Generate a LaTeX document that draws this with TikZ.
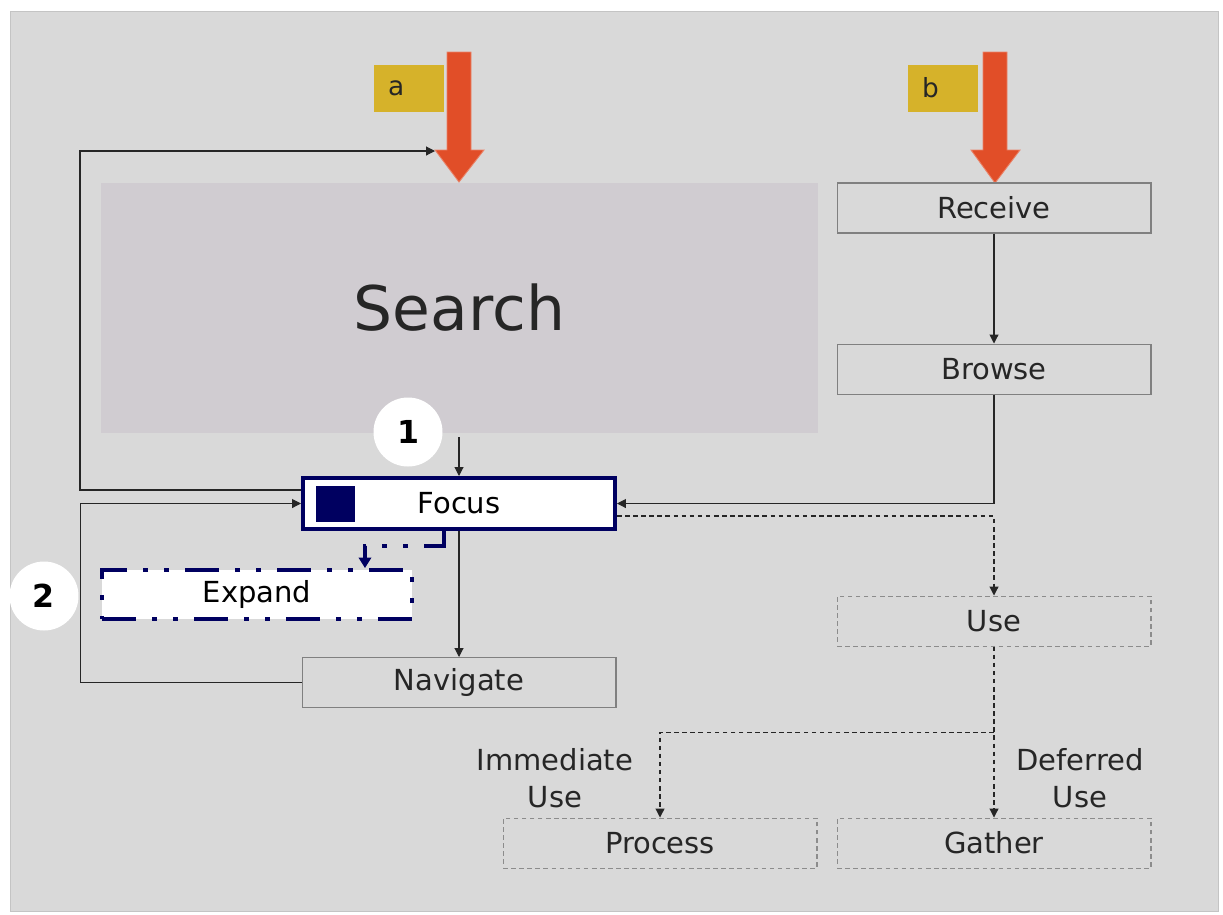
\documentclass[tikz,border=0pt]{standalone}
\usepackage{fontspec}
\setmainfont{DejaVu Sans}
\usepackage{tikz}
\usetikzlibrary{arrows.meta, positioning, calc}
\definecolor{bggrey}{RGB}{217,217,217}
\definecolor{bgedge}{RGB}{196,196,196}
\definecolor{srchfill}{RGB}{208,204,209}
\definecolor{mynavy}{RGB}{0,0,96}
\definecolor{myred}{RGB}{225,78,40}
\definecolor{myyellow}{RGB}{214,178,42}
\definecolor{boxgrey}{RGB}{128,128,128}
\definecolor{dashgrey}{RGB}{140,140,140}
\definecolor{mydark}{RGB}{38,38,38}
\tikzset{
  box/.style={rectangle, draw=boxgrey, line width=0.6pt,
    minimum width=6.28cm, minimum height=1.0cm, inner sep=0pt,
    font=\fontsize{16.5}{20}\selectfont, text=mydark},
  dbox/.style={box, draw=dashgrey, dash pattern=on 2.6pt off 2pt},
  navybox/.style={rectangle, draw=mynavy, fill=white, line width=2.3pt,
    minimum width=6.24cm, minimum height=1.02cm, inner sep=0pt,
    font=\fontsize{16.5}{20}\selectfont, text=black},
  labbox/.style={rectangle, fill=myyellow, minimum width=1.4cm,
    minimum height=0.94cm, inner xsep=0.28cm, text width=0.84cm,
    align=left, font=\fontsize{15}{18}\selectfont, text=mydark},
  numcirc/.style={circle, fill=white, minimum size=1.38cm, inner sep=0pt,
    font=\fontsize{18}{20}\selectfont\bfseries},
  lbl/.style={align=center, font=\fontsize{16.5}{21}\selectfont, text=mydark},
  bigarrow/.style={fill=myred, draw=myred!70!white, line width=0.5pt},
  arrow/.style={-{Triangle[length=5pt,width=5pt]}, color=mydark, line width=0.6pt},
  darrow/.style={arrow, dash pattern=on 2.6pt off 2pt},
  navyarrow/.style={-{Triangle[length=6pt,width=7pt]}, color=mynavy, line width=2.3pt,
    dash pattern=on 7mm off 3.2mm on 1mm off 3.2mm on 1mm off 3.2mm}
}
\begin{document}
\begin{tikzpicture}[x=0.02cm, y=-0.02cm]
  \useasboundingbox (0,0) rectangle (1223,914);
  \fill[bggrey, draw=bgedge] (10,11) rectangle (1218,911);

  % Search block
  \node[rectangle, fill=srchfill, minimum width=14.34cm, minimum height=5.0cm,
    font=\fontsize{35}{40}\selectfont, text=mydark] (search) at (459.5,308) {Search};

  % Entry arrows a and b
  \fill[bigarrow] (447,52) -- (471,52) -- (471,150) -- (484,150) -- (459,182)
    -- (435,150) -- (447,150) -- cycle;
  \fill[bigarrow] (983,52) -- (1007,52) -- (1007,150) -- (1020,150) -- (995,183)
    -- (971,150) -- (983,150) -- cycle;
  \coordinate (ahead) at (435,151);
  \node[labbox] (alab) at (409,88) {a};
  \node[labbox] (blab) at (943,88) {b};

  % Right column
  \node[box] (recv) at (994,208) {Receive};
  \node[box, below=2.2cm of recv] (brow) {Browse};
  \node[dbox, below=4.02cm of brow] (use) {Use};
  \node[dbox, below=3.42cm of use] (gath) {Gather};
  \node[dbox, left=0.38cm of gath] (proc) {Process};

  % Left column
  \node[navybox] (focus) at (459,503.5) {Focus};
  \node[fill=mynavy, minimum width=0.78cm, minimum height=0.72cm, inner sep=0pt,
    anchor=west] (fmark) at ($(focus.west)+(15,0)$) {};
  \node[navybox, minimum width=6.2cm, minimum height=0.98cm, line width=2.2pt,
    dash pattern=on 6.8mm off 3.2mm on 1mm off 3.2mm on 1mm off 3.2mm] (expand) at (257,594.5) {Expand};
  \node[box, below=2.52cm of focus] (navig) {Navigate};

  % Step numbers
  \node[numcirc] (n1) at (408,432) {1};
  \node[numcirc] (n2) at (44,596) {2};

  % Branch labels
  \node[lbl] (imm) at (555,778) {Immediate\\Use};
  \node[lbl] (def) at (1080,778) {Deferred\\Use};

  % Solid connectors
  \draw[arrow] (recv) -- (brow);
  \draw[arrow] (brow.south) |- (focus.east);
  \draw[arrow, shorten <=0.08cm] (search.south -| focus.north) -- (focus.north);
  \draw[arrow] (focus.south) -- (focus.south |- navig.north);
  \draw[arrow] ([yshift=0.27cm]focus.west) -- ++(-221,0) |- (ahead);
  \draw[arrow] (navig.west) -- ++(-221,0) |- (focus.west);

  % Expand link
  \draw[navyarrow] ([xshift=-0.3cm]focus.south) -- ++(0,15)
    -| ([xshift=2.16cm]expand.north);

  % Dashed use links
  \draw[darrow] ([yshift=-0.25cm]focus.east) -| (use.north);
  \coordinate (split) at ($(use.south)!0.5!(gath.north)$);
  \draw[darrow] (use) -- (gath);
  \draw[darrow] (split) -| (proc.north);
\end{tikzpicture}
\end{document}
